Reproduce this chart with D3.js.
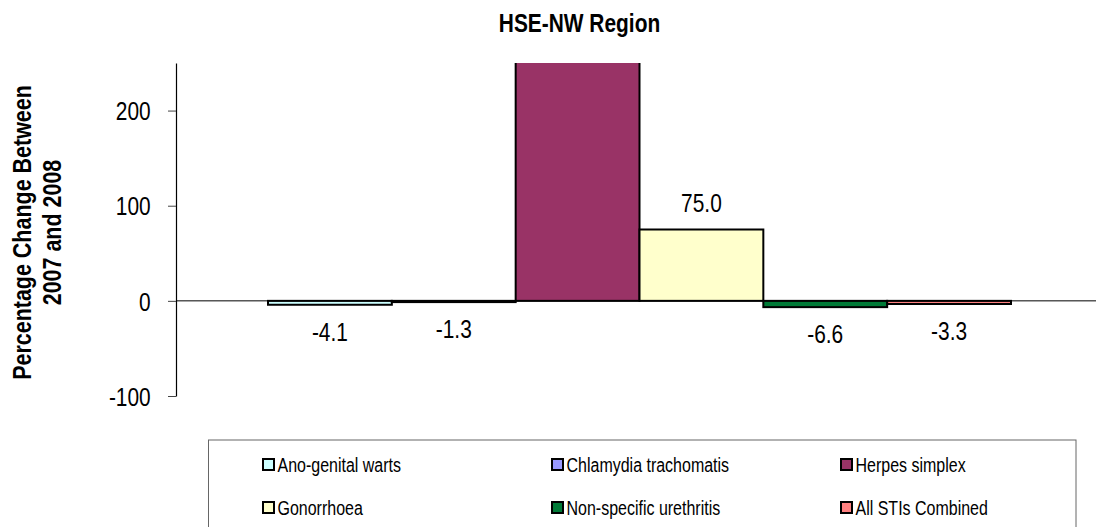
<!DOCTYPE html>
<html>
<head>
<meta charset="utf-8">
<script src="https://cdn.jsdelivr.net/npm/d3@7"></script>
<style>
  html, body { margin: 0; padding: 0; background: #fff; }
  svg { display: block; }
  text { font-family: "Liberation Sans", Arial, sans-serif; fill: #000; }
</style>
</head>
<body>
<svg id="chart" width="1096" height="527"></svg>
<script>
// ---- data ----
const chartTitle = "HSE-NW Region";
const yTitleLines = ["Percentage Change Between", "2007 and 2008"];
const seriesNames = ["Ano-genital warts", "Chlamydia trachomatis", "Herpes simplex",
                     "Gonorrhoea", "Non-specific urethritis", "All STIs Combined"];
const seriesValues = [-4.1, -1.3, 300, 75.0, -6.6, -3.3];
const seriesLabels = ["-4.1", "-1.3", "", "75.0", "-6.6", "-3.3"];
const seriesColors = ["#CCFFFF", "#9999FF", "#993366", "#FFFFCC", "#007A37", "#FF8080"];
const yTicks = [-100, 0, 100, 200];
const yTickLabels = ["-100", "0", "100", "200"];
const yDomain = [-100, 250];

// ---- layout ----
const NARROW = 0.82;
const plot = { left: 176, right: 1103, top: 63, bottom: 396 };
const svg = d3.select("#chart");

const y = d3.scaleLinear().domain(yDomain).range([plot.bottom, plot.top]);
const x = d3.scaleBand().domain(seriesNames).range([plot.left, plot.right])
  .paddingInner(0).paddingOuter(0.743);

function narrowText(parent, tx, ty, str, size, weight, anchor, rotate) {
  const g = parent.append("g")
    .attr("transform", `translate(${tx},${ty})` + (rotate ? ` rotate(${rotate})` : "") + ` scale(${NARROW},1)`);
  g.append("text")
    .attr("x", 0).attr("y", 0)
    .attr("text-anchor", anchor || "start")
    .style("font-size", size + "px")
    .style("font-weight", weight || "normal")
    .text(str);
  return g;
}

// title
narrowText(svg, 579.5, 31.5, chartTitle, 25.5, "bold", "middle");

// y axis title
narrowText(svg, 31, 232.5, yTitleLines[0], 26.2, "bold", "middle", -90);
narrowText(svg, 61, 232.5, yTitleLines[1], 26.2, "bold", "middle", -90);

// clip
svg.append("defs").append("clipPath").attr("id", "plotclip")
  .append("rect").attr("x", plot.left).attr("y", plot.top)
  .attr("width", plot.right - plot.left).attr("height", plot.bottom - plot.top);

const plotG = svg.append("g").attr("clip-path", "url(#plotclip)");

// bars
plotG.selectAll("rect.bar").data(seriesNames).join("rect")
  .attr("class", "bar")
  .attr("x", d => x(d))
  .attr("width", x.bandwidth())
  .attr("y", (d, i) => y(Math.max(0, seriesValues[i])))
  .attr("height", (d, i) => Math.abs(y(seriesValues[i]) - y(0)))
  .attr("fill", (d, i) => seriesColors[i])
  .attr("stroke", "#000")
  .attr("stroke-width", 2);

// zero line
svg.append("line")
  .attr("x1", plot.left).attr("x2", plot.right)
  .attr("y1", y(0)).attr("y2", y(0))
  .attr("stroke", "#000").attr("stroke-width", 1);

// data labels
seriesNames.forEach((d, i) => {
  const v = seriesValues[i];
  if (!seriesLabels[i]) return;
  const cx = x(d) + x.bandwidth() / 2;
  const by = v < 0 ? y(v) + 36 : y(v) - 17.5;
  narrowText(plotG, cx, by, seriesLabels[i], 25.5, "normal", "middle");
});

// y axis
const yAxis = d3.axisLeft(y).tickValues(yTicks).tickSize(8).tickSizeOuter(0)
  .tickFormat(d => yTickLabels[yTicks.indexOf(d)]);
const axG = svg.append("g").attr("transform", `translate(${plot.left},0)`).call(yAxis);
axG.select(".domain").attr("stroke", "#000").attr("stroke-width", 1.2);
axG.selectAll(".tick line").attr("stroke", "#444");
axG.selectAll(".tick text")
  .attr("x", -25.3 / NARROW)
  .attr("dy", "0.36em")
  .attr("transform", `scale(${NARROW},1)`)
  .style("font-size", "25.5px")
  .style("font-family", "'Liberation Sans', Arial, sans-serif")
  .attr("fill", "#000");

// legend
const legend = { left: 208.5, top: 440, right: 1076, bottom: 530 };
svg.append("rect")
  .attr("x", legend.left).attr("y", legend.top)
  .attr("width", legend.right - legend.left).attr("height", legend.bottom - legend.top)
  .attr("fill", "#fff").attr("stroke", "#666").attr("stroke-width", 1);

const colX = d3.scalePoint().domain([0, 1, 2]).range([263, 841]);
const rowY = d3.scalePoint().domain([0, 1]).range([465, 508]);
seriesNames.forEach((name, i) => {
  const c = i % 3, r = Math.floor(i / 3);
  const lx = colX(c), ly = rowY(r);
  svg.append("rect")
    .attr("x", lx).attr("y", ly - 6)
    .attr("width", 11).attr("height", 11)
    .attr("fill", seriesColors[i])
    .attr("stroke", "#000").attr("stroke-width", 2);
  narrowText(svg, lx + 14.5, ly + 7, name, 19.5, "normal", "start");
});
</script>
</body>
</html>
